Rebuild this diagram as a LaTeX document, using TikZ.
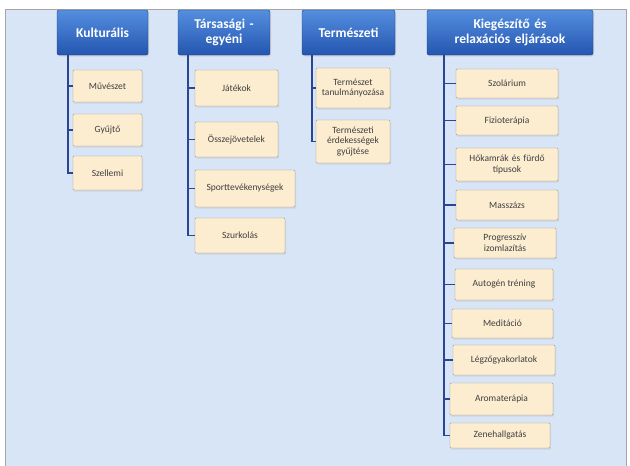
\documentclass[tikz,border=0pt]{standalone}
\usepackage{fontspec}
\setmainfont{Carlito}
\usetikzlibrary{shadows}

\definecolor{bgblue}{RGB}{216,229,246}
\definecolor{headtop}{RGB}{84,142,222}
\definecolor{headbot}{RGB}{36,86,176}
\definecolor{headline}{RGB}{30,62,130}
\definecolor{boxfill}{RGB}{252,236,208}
\definecolor{boxline}{RGB}{160,156,140}
\definecolor{trunk}{RGB}{40,70,145}

\tikzset{
    header/.style={draw=headline, rounded corners=2pt, top color=headtop, bottom color=headbot,
        text=white, align=center, font=\fontsize{13.5}{15}\selectfont\bfseries, inner sep=1pt,
        drop shadow={shadow xshift=1pt, shadow yshift=-1.5pt, fill=gray!50}},
    item/.style={draw=boxline, rounded corners=1pt, fill=boxfill, text=black!75,
        align=center, font=\fontsize{9.5}{10.5}\selectfont, inner sep=1pt,
        drop shadow={shadow xshift=1pt, shadow yshift=-1.5pt, fill=gray!45}},
    conn/.style={draw=trunk, line width=1.2pt}
}

\begin{document}
\begin{tikzpicture}[x=1pt,y=-1pt]

\useasboundingbox (0,0) rectangle (630,466);

% background and frame
\fill[white] (0,0) rectangle (630,466);
\draw[fill=bgblue, draw=gray!70, line width=1pt] (5,9) rectangle (626,472);

% Headers
\node[header, minimum width=91, minimum height=45] (kul) at (102.5,32.5) {Kulturális};
\node[header, minimum width=92, minimum height=45, text width=88] (tars) at (224,32.5) {Társasági -\\egyéni};
\node[header, minimum width=93, minimum height=45] (term) at (348.5,32.5) {Természeti};
\node[header, minimum width=166, minimum height=45, text width=160] (kieg) at (510,32.5) {Kiegészítő és\\relaxációs eljárások};

% Kulturális
\node[item, minimum width=69, minimum height=32] (kul1) at (107.5,86) {Művészet};
\node[item, minimum width=69, minimum height=32] (kul2) at (107.5,130) {Gyűjtő};
\node[item, minimum width=69, minimum height=34] (kul3) at (107.5,173) {Szellemi};

% Társasági - egyéni
\node[item, minimum width=83, minimum height=36] (tars1) at (236.5,88) {Játékok};
\node[item, minimum width=83, minimum height=35] (tars2) at (236.5,139.5) {Összejövetelek};
\node[item, minimum width=100, minimum height=37] (tars3) at (245,188.5) {Sporttevékenységek};
\node[item, minimum width=90, minimum height=35] (tars4) at (240,235.5) {Szurkolás};

% Természeti
\node[item, minimum width=74, minimum height=40, text width=72] (term1) at (353,88) {Természet\\tanulmányozása};
\node[item, minimum width=74, minimum height=43, text width=72] (term2) at (353,141.5) {Természeti\\érdekességek\\gyűjtése};

% Kiegészítő és relaxációs eljárások
\node[item, minimum width=102, minimum height=29] (kieg1) at (507,83.5) {Szolárium};
\node[item, minimum width=102, minimum height=29] (kieg2) at (507,120.5) {Fizioterápia};
\node[item, minimum width=102, minimum height=33, text width=98] (kieg3) at (507,164.5) {Hőkamrák és fürdő\\típusok};
\node[item, minimum width=102, minimum height=30] (kieg4) at (507,205) {Masszázs};
\node[item, minimum width=102, minimum height=30, text width=98] (kieg5) at (505,243) {Progresszív\\izomlazítás};
\node[item, minimum width=98, minimum height=31] (kieg6) at (504,284.5) {Autogén tréning};
\node[item, minimum width=101, minimum height=29] (kieg7) at (502.5,323.5) {Meditáció};
\node[item, minimum width=102, minimum height=30] (kieg8) at (504,360) {Légzőgyakorlatok};
\node[item, minimum width=103, minimum height=32] (kieg9) at (501.5,399) {Aromaterápia};
\node[item, minimum width=100, minimum height=25] (kieg10) at (500,435.5) {Zenehallgatás};

% Trunks
\coordinate (kulT) at (68,55);
\coordinate (tarsT) at (188,55);
\coordinate (termT) at (312,55);
\coordinate (kiegT) at (444,55);

\foreach \i in {1,...,3}
{
    \draw[conn] (kulT) |- (kul\i.west);
}
\foreach \i in {1,...,4}
{
    \draw[conn] (tarsT) |- (tars\i.west);
}
\foreach \i in {1,2}
{
    \draw[conn] (termT) |- (term\i.west);
}
\foreach \i in {1,...,10}
{
    \draw[conn] (kiegT) |- (kieg\i.west);
}

\end{tikzpicture}
\end{document}
